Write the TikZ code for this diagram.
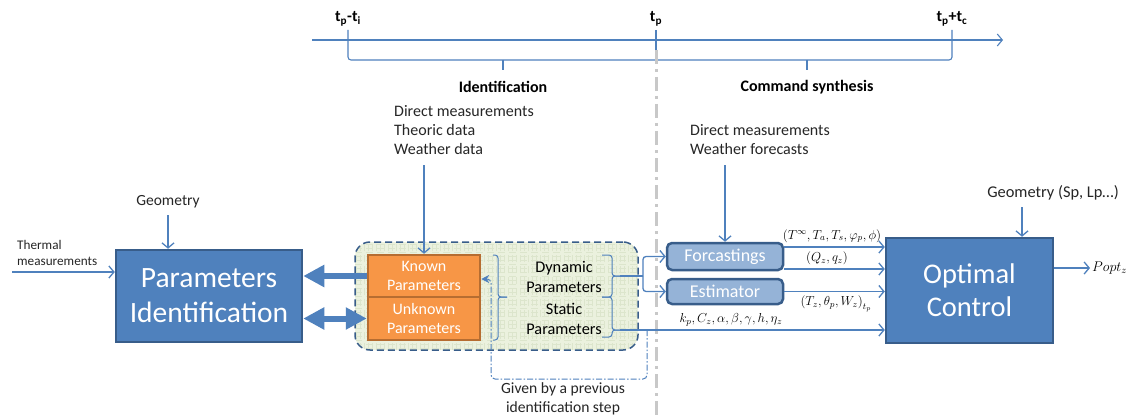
\RequirePackage{fix-cm}
\documentclass[tikz,border=0pt]{standalone}
\usepackage{fontspec}
\setmainfont{Carlito}
\usetikzlibrary{arrows.meta}
\definecolor{lblue}{HTML}{4F81BD}
\definecolor{dblue}{HTML}{385D8A}
\definecolor{orng}{HTML}{F79646}
\definecolor{dorng}{HTML}{B66D31}
\definecolor{pale}{HTML}{95B3D7}
\definecolor{grn}{HTML}{EBF1DE}
\definecolor{gridc}{HTML}{DCE5CC}
\definecolor{gry}{HTML}{C8C8C8}
\definecolor{txt}{HTML}{262626}
\tikzset{
  arr/.style={draw=lblue, line width=1.3pt, -{Straight Barb[length=5pt,width=12pt]}},
  fatarr/.style={draw=lblue, line width=6pt, -{Triangle[length=21pt,width=21pt]}},
  fatdbl/.style={draw=lblue, line width=6pt, {Triangle[length=21pt,width=21pt]}-{Triangle[length=21pt,width=21pt]}},
  bigbox/.style={draw=dblue, line width=2.5pt, fill=lblue, text=white, align=center, inner sep=0pt,
    font=\fontsize{29.5}{35}\selectfont},
  orbox/.style={draw=dorng, line width=2.5pt, fill=orng, text=white, align=center, inner sep=0pt,
    minimum width=112pt, font=\fontsize{16}{19}\selectfont},
  smbox/.style={draw=dblue, line width=2.5pt, fill=pale, text=white, rounded corners=5pt, inner sep=0pt,
    minimum width=116pt, font=\fontsize{18}{20}\selectfont},
  lab/.style={text=txt, font=\fontsize{16}{19}\selectfont, align=left, inner sep=0pt},
  mlab/.style={text=black, font=\fontsize{13}{15}\selectfont, inner sep=0pt},
  tlab/.style={text=black, font=\fontsize{16}{18}\selectfont\bfseries, inner sep=0pt},
  brace/.style={draw=lblue, line width=1pt, rounded corners=3pt},
}
\begin{document}
\begin{tikzpicture}[x=1pt,y=-1pt]
\useasboundingbox (0,0) rectangle (1129,417);
\fill[white] (0,0) rectangle (1129,417);

% time line
\coordinate (tl0) at (312,40);
\coordinate (tl1) at (1003,40);
\draw[arr, line width=1.1pt] (tl0) -- (tl1);
\node[tlab] (lti) at (348,19) {t\textsubscript{p}-t\textsubscript{i}};
\node[tlab] (ltp) at (656,19) {t\textsubscript{p}};
\node[tlab] (ltc) at (952,19) {t\textsubscript{p}+t\textsubscript{c}};
\draw[draw=lblue, line width=1.1pt, rounded corners=3pt] (348,30) -- (348,60) -- (952,60) -- (952,30);
\draw[draw=lblue, line width=1.1pt] (656,30) -- (656,60);
\draw[draw=lblue, line width=1.1pt] (503,60) -- (503,70);
\draw[draw=lblue, line width=1.1pt] (807,60) -- (807,70);
\node[tlab] (lid) at (503,87) {Identification};
\node[tlab] (lcs) at (807,87) {Command synthesis};

% gray separator
\draw[gry, line width=3pt, dash pattern=on 14pt off 5pt on 3pt off 5pt] (656,50) -- (656,417);

% parameters identification
\node[bigbox, minimum width=186pt, minimum height=92pt] (pi) at (209,296) {Parameters\\Identification};
\node[lab, anchor=south, font=\fontsize{15.5}{18}\selectfont] (geo) at (168,208) {Geometry};
\draw[arr] (geo.south |- 0,215) -- (geo.south |- pi.north);
\node[lab, anchor=west, font=\fontsize{13.2}{16}\selectfont] (therm) at (17,253) {Thermal\\measurements};
\coordinate (th0) at (12,272);
\draw[arr] (th0) -- (pi.west |- th0);

% green group
\node[draw=dblue, line width=1.5pt, dash pattern=on 7pt off 4pt, fill=grn, rounded corners=15pt,
  minimum width=283pt, minimum height=108pt, inner sep=0pt,
  path picture={\draw[gridc, line width=0.25pt, xstep=4pt, ystep=4pt]
    (path picture bounding box.south west) grid (path picture bounding box.north east);}]
  (grp) at (496.5,296) {};
\node[orbox, minimum height=42pt] (kn) at (424,276) {Known\\Parameters};
\node[orbox, minimum height=43pt] (un) at (424,318.5) {Unknown\\Parameters};
\draw[fatarr] (kn.west) -- (pi.east |- kn.west);
\draw[fatdbl] (pi.east |- un.west) -- (un.west);

\node[lab, anchor=north west] (dm) at (394,105) {Direct measurements\\Theoric data\\Weather data};
\draw[arr] (kn.north |- 0,165) -- (kn.north);

\node[lab, align=center, text=black, font=\fontsize{16.3}{20}\selectfont] (dyn) at (564,277) {Dynamic\\Parameters};
\node[lab, align=center, text=black, font=\fontsize{16.3}{20}\selectfont] (sta) at (564,319) {Static\\Parameters};

% braces
\draw[brace] (493,255) -- (498,255) -- (498,297) -- (507,297);
\draw[brace] (507,297) -- (498,297) -- (498,340) -- (493,340);
\draw[brace] (602,255) -- (612,255) -- (612,276) -- (620,276);
\draw[brace] (620,276) -- (612,276) -- (612,297) -- (602,297);
\draw[brace] (602,297) -- (612,297) -- (612,330) -- (620,330);
\draw[brace] (620,330) -- (612,330) -- (612,337) -- (602,337);
\coordinate (dtip) at (620,276);
\coordinate (stip) at (620,330);
\coordinate (fork) at (643,276);

% feedback dash-dot
\draw[draw=lblue, line width=1pt, dash pattern=on 6pt off 2pt on 1.5pt off 2pt, rounded corners=4pt,
  -{Stealth[length=8pt,width=8pt]}] (647,330) -- (647,379) -- (491,379) -- (491,279) -- (kn.east |- 0,279);
\node[lab, align=center, font=\fontsize{15.6}{19}\selectfont] (given) at (563,399) {Given by a previous\\identification step};

% forecasting / estimator
\node[smbox, minimum height=27pt] (fc) at (725,256.5) {Forcastings};
\node[smbox, minimum height=25pt] (es) at (725,291.5) {Estimator};
\draw[draw=lblue, line width=2.5pt] (dtip) -- (fork);
\draw[arr, rounded corners=3pt] (fork) |- (fc.west);
\draw[arr, rounded corners=3pt] (fork) |- (es.west);
\node[lab, anchor=north west] (dm2) at (690,124) {Direct measurements\\Weather forecasts};
\draw[arr] (fc.north |- 0,165) -- (fc.north);

% optimal control
\node[bigbox, minimum width=167pt, minimum height=105pt, font=\fontsize{28.5}{33}\selectfont] (oc) at (969.5,290.5) {Optimal\\Control};
\node[lab, font=\fontsize{16.4}{18}\selectfont] (geo2) at (1053,193) {Geometry (Sp, Lp…)};
\draw[arr] (1022,207) -- (1022,0 |- oc.north);
\coordinate (po) at (1090,268);
\draw[arr] (oc.east |- po) -- (po);
\node[mlab, anchor=west, font=\fontsize{14}{16}\selectfont] (popt) at (1092,268) {$Popt_z$};

\draw[arr] (fc.east |- 0,247) -- (oc.west |- 0,247);
\draw[arr] (fc.east |- 0,269) -- (oc.west |- 0,269);
\draw[arr] (es.east) -- (oc.west |- es.east);
\draw[arr] (stip) -- (oc.west |- stip);
\node[mlab] (l1) at (832,236) {$\bigl(T^{\infty},T_a,T_s,\varphi_p,\phi\bigr)$};
\node[mlab] (l2) at (827,258) {$(Q_z,q_z)$};
\node[mlab] (l3) at (836,304) {$\bigl(T_z,\theta_p,W_z\bigr)_{t_p}$};
\node[mlab] (l4) at (731,320) {$k_p,C_z,\alpha,\beta,\gamma,h,\eta_z$};
\end{tikzpicture}
\end{document}
